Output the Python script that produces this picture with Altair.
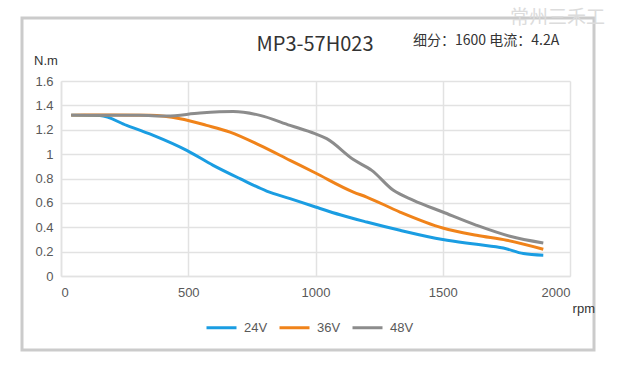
import altair as alt
import pandas as pd

# ---- data ----
rpm_24 = [40, 153, 258, 363, 494, 598, 703, 808, 900, 1000, 1100, 1201, 1332, 1500, 1633, 1738, 1817, 1895]
tq_24 = [1.32, 1.316, 1.236, 1.154, 1.031, 0.908, 0.799, 0.697, 0.635, 0.566, 0.50, 0.443, 0.375, 0.299, 0.26, 0.23, 0.184, 0.17]

rpm_36 = [40, 200, 350, 468, 572, 664, 782, 900, 998, 1149, 1201, 1332, 1500, 1633, 1751, 1895]
tq_36 = [1.32, 1.322, 1.318, 1.29, 1.236, 1.181, 1.072, 0.949, 0.847, 0.689, 0.648, 0.525, 0.394, 0.334, 0.293, 0.219]

rpm_48 = [40, 310, 415, 546, 677, 782, 900, 998, 1044, 1149, 1221, 1306, 1385, 1500, 1633, 1764, 1895]
tq_48 = [1.32, 1.318, 1.313, 1.337, 1.349, 1.318, 1.236, 1.168, 1.127, 0.955, 0.867, 0.703, 0.621, 0.525, 0.416, 0.326, 0.271]

series = ["24V", "36V", "48V"]
colors = ["#1a9de2", "#f0831a", "#8c8c8c"]
x_ticks = [0, 500, 1000, 1500, 2000]
y_ticks = [0, 0.2, 0.4, 0.6, 0.8, 1.0, 1.2, 1.4, 1.6]

title_text = "MP3-57H023"
subtitle_text = "细分：1600 电流：4.2A"
watermark_text = "常州三禾工"
y_unit = "N.m"
x_unit = "rpm"

rows = []
for name, xs, ys in zip(series, [rpm_24, rpm_36, rpm_48], [tq_24, tq_36, tq_48]):
    for i, (a, b) in enumerate(zip(xs, ys)):
        rows.append({"rpm": a, "torque": b, "voltage": name, "order": i})
df = pd.DataFrame(rows)

W, H = 509, 195
axis_font = "Liberation Sans"
cjk_font = "Noto Sans CJK SC"

lines = alt.Chart(df).mark_line(strokeWidth=3, interpolate="monotone").encode(
    x=alt.X("rpm:Q",
            scale=alt.Scale(domain=[0, 2000], nice=False),
            axis=alt.Axis(values=x_ticks, format="d", title=None, grid=True, gridColor="#e2e2e2",
                          gridWidth=1.5, domainColor="#e2e2e2", domainWidth=1.5,
                          ticks=False, labelPadding=10, labelFontSize=13,
                          labelColor="#595959", labelFont=axis_font)),
    y=alt.Y("torque:Q",
            scale=alt.Scale(domain=[0, 1.6], nice=False),
            axis=alt.Axis(values=y_ticks, format=".1~f", title=None, grid=True,
                          gridColor="#e2e2e2", gridWidth=1.5, domainColor="#e2e2e2",
                          domainWidth=1.5, ticks=False, labelPadding=8,
                          labelFontSize=13, labelColor="#595959", labelFont=axis_font)),
    color=alt.Color("voltage:N",
                    scale=alt.Scale(domain=series, range=colors),
                    legend=alt.Legend(orient="none", legendX=144, legendY=230,
                                      direction="horizontal", columns=3, title=None,
                                      symbolType="stroke", symbolSize=900,
                                      symbolStrokeWidth=3, labelOffset=6,
                                      columnPadding=5, labelFontSize=13,
                                      labelColor="#595959", labelFont=axis_font,
                                      padding=0)),
    order="order:Q",
)

one = pd.DataFrame({"k": [0]})

frame = alt.Chart(one).mark_rect(fill="transparent", stroke="#cbcbcb", strokeWidth=3).encode(
    x=alt.value(-39), x2=alt.value(533), y=alt.value(-63), y2=alt.value(269)
)


def label(txt, size, font, color, align, x, y):
    return alt.Chart(pd.DataFrame({"t": [txt]})).mark_text(
        fontSize=size, font=font, color=color, align=align, baseline="middle"
    ).encode(text="t:N", x=alt.value(x), y=alt.value(y))


title = label(title_text, 20, cjk_font, "#333333", "center", 254, -36)
subtitle = label(subtitle_text, 14, cjk_font, "#333333", "left", 352, -40)
watermark = label(watermark_text, 19, cjk_font, "#dcdcdc", "left", 449, -63)
yunit = label(y_unit, 13, axis_font, "#333333", "left", -27, -20)
xunit = label(x_unit, 13, axis_font, "#333333", "right", 534, 228)

chart = alt.layer(frame, lines, title, subtitle, watermark, yunit, xunit).properties(
    width=W, height=H,
    autosize=alt.AutoSizeParams(type="none"),
    padding={"left": 61, "top": 81, "right": 47, "bottom": 101},
    background="white",
).configure_view(stroke=None).configure_legend(offset=0)

chart.save("out.html", embed_options={"renderer": "svg", "actions": False})
